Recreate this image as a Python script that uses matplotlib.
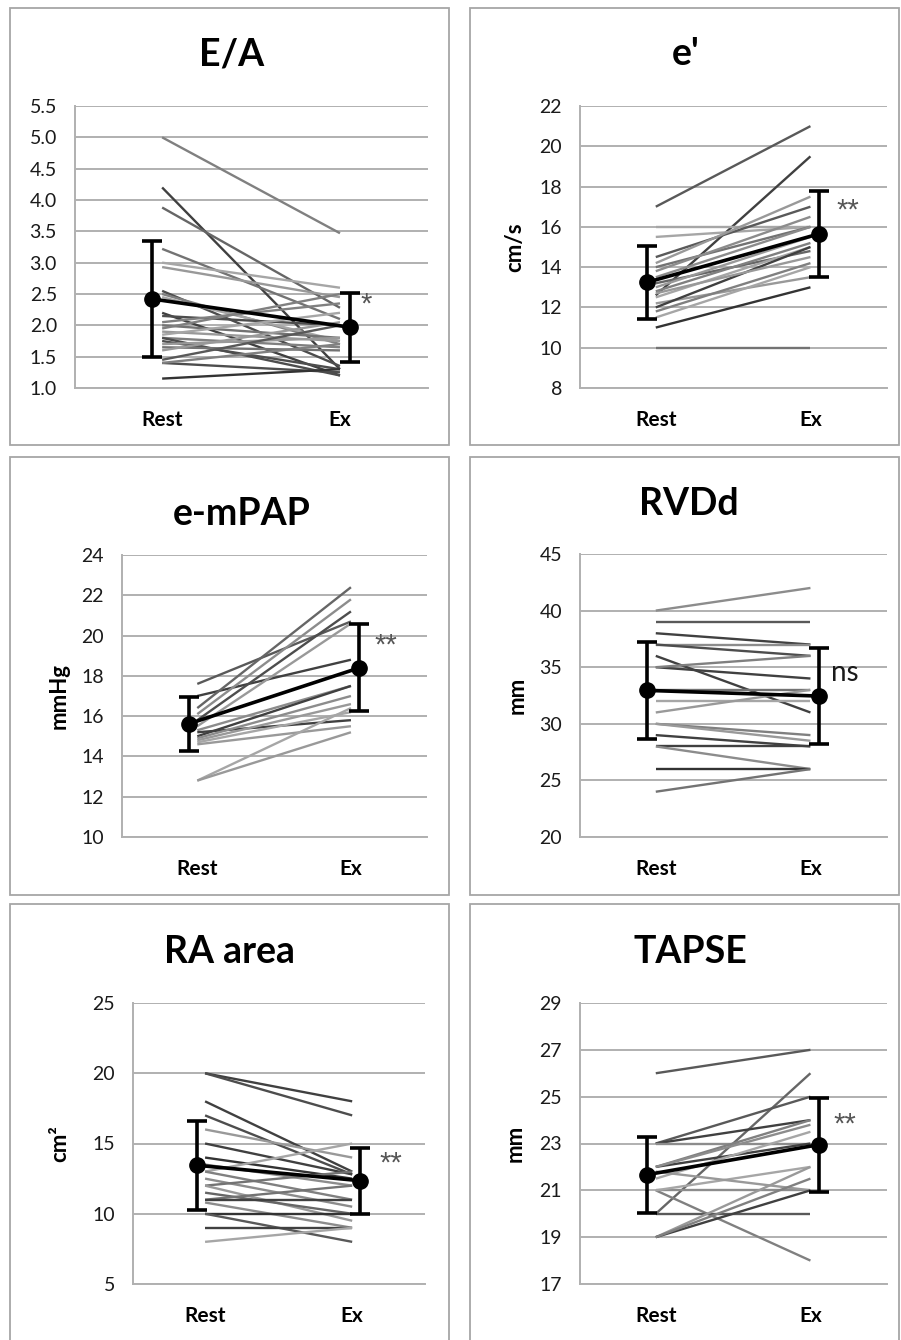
import matplotlib
matplotlib.use("Agg")
import matplotlib.pyplot as plt
from matplotlib.patches import Rectangle

plt.rcParams['font.family'] = ['Lato', 'DejaVu Sans']

categories = ["Rest", "Ex"]

# E/A
ea_rest = [5.00, 4.20, 3.88, 3.22, 3.00, 2.93, 2.55, 2.50, 2.45, 2.20, 2.15, 2.05, 2.00,
           1.95, 1.90, 1.85, 1.80, 1.80, 1.75, 1.70, 1.65, 1.60, 1.45, 1.40, 1.40, 1.15]
ea_ex = [3.47, 1.30, 2.28, 2.10, 2.60, 2.45, 1.35, 1.70, 1.75, 1.20, 2.00, 2.35, 1.80,
         2.50, 1.75, 2.20, 1.65, 1.20, 1.30, 1.80, 1.60, 2.05, 2.00, 1.25, 1.70, 1.30]
ea_mean = [2.42, 1.97]
ea_sd = [0.93, 0.55]

# e'
ep_rest = [17.0, 12.6, 16.0, 15.5, 14.5, 14.2, 14.0, 13.5, 13.2, 13.0, 12.8, 12.5, 12.2,
           12.0, 11.8, 11.5, 11.0, 10.0, 13.8, 12.7]
ep_ex = [21.0, 19.5, 16.0, 16.0, 17.0, 17.5, 16.0, 16.0, 14.8, 15.5, 15.2, 15.0, 13.5,
         15.0, 14.2, 14.0, 13.0, 10.0, 16.5, 14.5]
ep_mean = [13.25, 15.65]
ep_sd = [1.8, 2.12]

# e-mPAP
pap_rest = [17.6, 17.0, 16.4, 16.1, 15.8, 15.5, 15.3, 15.2, 15.0, 14.9, 14.8, 14.7, 14.6, 12.8, 12.8]
pap_ex = [20.7, 18.8, 22.4, 21.8, 21.2, 20.6, 17.5, 15.8, 17.5, 17.0, 16.6, 16.2, 15.5, 16.4, 15.2]
pap_mean = [15.62, 18.4]
pap_sd = [1.35, 2.15]

# RVDd
rv_rest = [40, 39, 38, 37, 37, 36, 35, 35, 33, 32, 31, 30, 29, 28, 28, 26, 24, 30]
rv_ex = [42, 39, 37, 37, 36, 31, 34, 36, 33, 32, 33, 29, 28, 28, 26, 26, 26, 28.5]
rv_mean = [32.95, 32.45]
rv_sd = [4.25, 4.25]

# RA area
ra_rest = [20, 20, 18, 17, 16, 15, 14, 13, 13.5, 13, 12.5, 12, 12, 11.5, 11, 11, 10.8, 10, 10, 9, 8]
ra_ex = [18, 17, 13, 12.8, 14, 12.8, 12.5, 15, 12, 11, 10.5, 13, 9.5, 10, 12, 11, 9, 10, 8, 9, 9]
ra_mean = [13.45, 12.35]
ra_sd = [3.15, 2.35]

# TAPSE
ta_rest = [26, 20, 23, 23, 23, 22, 22, 21.5, 21, 21, 21, 21.8, 20, 19, 19, 19, 22]
ta_ex = [27, 26, 25, 24, 23, 24, 23, 23.5, 18, 21, 22, 21, 20, 22, 21, 21.5, 23.8]
ta_mean = [21.67, 22.95]
ta_sd = [1.62, 2.0]

# grey level of each subject line (style)
ea_grey = [0.50, 0.25, 0.40, 0.45, 0.65, 0.60, 0.30, 0.50, 0.65, 0.25, 0.30, 0.50, 0.45,
           0.50, 0.60, 0.65, 0.50, 0.30, 0.30, 0.60, 0.45, 0.60, 0.35, 0.30, 0.50, 0.20]
ep_grey = [0.35, 0.25, 0.65, 0.65, 0.35, 0.60, 0.45, 0.55, 0.40, 0.60, 0.50, 0.65, 0.60,
           0.25, 0.50, 0.65, 0.20, 0.45, 0.55, 0.60]
pap_grey = [0.35, 0.25, 0.40, 0.55, 0.30, 0.60, 0.55, 0.25, 0.25, 0.55, 0.60, 0.65, 0.60, 0.65, 0.60]
rv_grey = [0.55, 0.35, 0.25, 0.55, 0.30, 0.25, 0.25, 0.50, 0.45, 0.65, 0.60, 0.50, 0.25,
           0.25, 0.55, 0.20, 0.45, 0.60]
ra_grey = [0.25, 0.30, 0.25, 0.30, 0.60, 0.25, 0.20, 0.65, 0.55, 0.50, 0.55, 0.45, 0.60,
           0.40, 0.45, 0.25, 0.55, 0.20, 0.35, 0.25, 0.65]
ta_grey = [0.35, 0.40, 0.35, 0.25, 0.55, 0.50, 0.25, 0.65, 0.50, 0.55, 0.65, 0.60, 0.35,
           0.60, 0.25, 0.50, 0.55]

W, H = 901, 1340
fig = plt.figure(figsize=(W / 100, H / 100), dpi=100)

# panel boxes (pixels: left, top, right, bottom)
boxes = [(10, 8, 449, 445), (470, 8, 899, 445),
         (10, 457, 449, 895), (470, 457, 899, 895),
         (10, 904, 449, 1345), (470, 904, 899, 1345)]
for l, t, r, b in boxes:
    fig.patches.append(Rectangle((l / W, 1 - b / H), (r - l) / W, (b - t) / H,
                                 transform=fig.transFigure, fill=False,
                                 edgecolor='#a6a6a6', lw=1.3))

panels = [
    dict(title="E/A", rest=ea_rest, ex=ea_ex, mean=ea_mean, sd=ea_sd, grey=ea_grey,
         rect=(75, 106, 428, 388), ylim=(1.0, 5.5), step=0.5, fmt="{:.1f}", ylabel=None,
         title_xy=(232, 65), ylabel_x=None, sig="*", sig_xy=(1.15, 2.33)),
    dict(title="e'", rest=ep_rest, ex=ep_ex, mean=ep_mean, sd=ep_sd, grey=ep_grey,
         rect=(580, 106, 887, 388), ylim=(8, 22), step=2, fmt="{:.0f}", ylabel="cm/s",
         title_xy=(686, 65), ylabel_x=515, sig="**", sig_xy=(1.24, 16.8)),
    dict(title="e-mPAP", rest=pap_rest, ex=pap_ex, mean=pap_mean, sd=pap_sd, grey=pap_grey,
         rect=(122, 555, 427, 837), ylim=(10, 24), step=2, fmt="{:.0f}", ylabel="mmHg",
         title_xy=(242, 525), ylabel_x=59, sig="**", sig_xy=(1.23, 19.5)),
    dict(title="RVDd", rest=rv_rest, ex=rv_ex, mean=rv_mean, sd=rv_sd, grey=rv_grey,
         rect=(580, 554, 887, 837), ylim=(20, 45), step=5, fmt="{:.0f}", ylabel="mm",
         title_xy=(689, 515), ylabel_x=517, sig="ns", sig_xy=(1.22, 34.5)),
    dict(title="RA area", rest=ra_rest, ex=ra_ex, mean=ra_mean, sd=ra_sd, grey=ra_grey,
         rect=(133, 1003, 425, 1284), ylim=(5, 25), step=5, fmt="{:.0f}", ylabel="cm²",
         title_xy=(230, 963), ylabel_x=60, sig="**", sig_xy=(1.26, 13.6)),
    dict(title="TAPSE", rest=ta_rest, ex=ta_ex, mean=ta_mean, sd=ta_sd, grey=ta_grey,
         rect=(580, 1003, 887, 1284), ylim=(17, 29), step=2, fmt="{:.0f}", ylabel="mm",
         title_xy=(690, 963), ylabel_x=515, sig="**", sig_xy=(1.22, 23.8)),
]

grid_c = '#b0b0b0'
d = 0.055
for p in panels:
    l, t, r, b = p['rect']
    ax = fig.add_axes([l / W, 1 - b / H, (r - l) / W, (b - t) / H])
    ax.set_xlim(-0.49, 1.495)
    lo, hi = p['ylim']
    ax.set_ylim(lo, hi)
    n = int(round((hi - lo) / p['step']))
    ticks = [lo + i * p['step'] for i in range(n + 1)]
    ax.set_yticks(ticks)
    ax.set_yticklabels([p['fmt'].format(v) for v in ticks])
    ax.set_xticks([0, 1])
    ax.set_xticklabels(categories, fontsize=15, fontweight='bold')
    ax.tick_params(axis='x', length=0, pad=16)
    ax.tick_params(axis='y', length=0, pad=13, labelsize=14, labelcolor='#1a1a1a')
    ax.yaxis.grid(True, color=grid_c, lw=1.4)
    ax.set_axisbelow(True)
    for s in ['top', 'right']:
        ax.spines[s].set_visible(False)
    for s in ['left', 'bottom']:
        ax.spines[s].set_color(grid_c)
        ax.spines[s].set_linewidth(1.4)

    for rv, ev, g in zip(p['rest'], p['ex'], p['grey']):
        ax.plot([0, 1], [rv, ev], color=str(g), lw=1.7, solid_capstyle='butt', zorder=2)

    ax.errorbar([-d, 1 + d], p['mean'], yerr=p['sd'], color='black', lw=2.6,
                marker='o', ms=11, capsize=7, capthick=2.6, elinewidth=2.6, zorder=5)

    if p['sig'] == 'ns':
        ax.text(p['sig_xy'][0], p['sig_xy'][1], p['sig'], ha='center', va='center',
                fontsize=20, color='#1a1a1a')
    else:
        ax.text(p['sig_xy'][0], p['sig_xy'][1], p['sig'], ha='center', va='center',
                fontsize=21, color='#555555', family='Liberation Sans')

    tx, ty = p['title_xy']
    fig.text(tx / W, 1 - ty / H, p['title'], ha='center', va='baseline',
             fontsize=27, fontweight='bold')
    if p['ylabel']:
        fig.text(p['ylabel_x'] / W, 1 - ((t + b) / 2) / H, p['ylabel'], rotation=90,
                 ha='center', va='center', fontsize=16, fontweight='bold')

fig.savefig("out.png", dpi=100)
